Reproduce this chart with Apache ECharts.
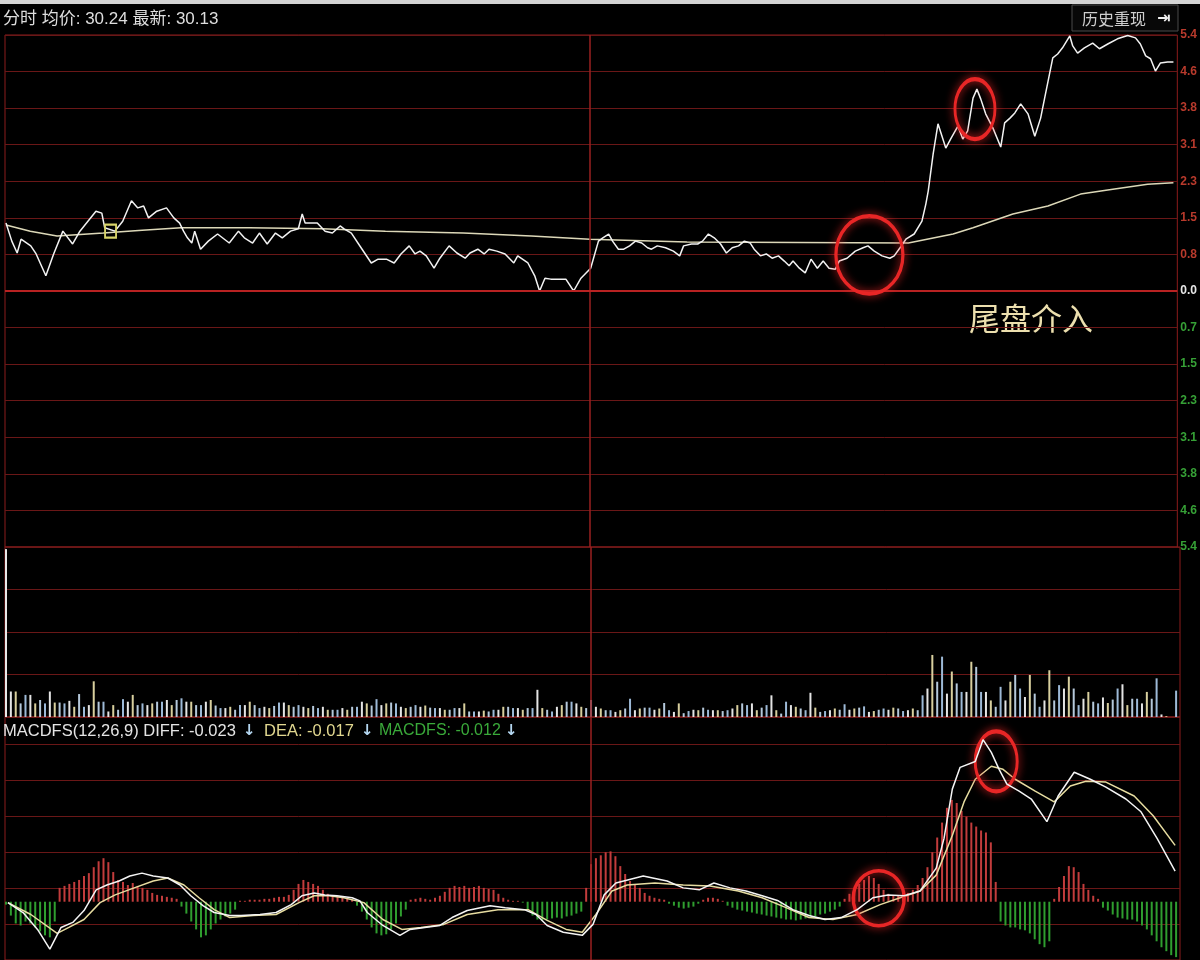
<!DOCTYPE html>
<html>
<head>
<meta charset="utf-8">
<title>分时 MACDFS</title>
<script src="https://cdn.jsdelivr.net/npm/echarts@6/dist/echarts.min.js"></script>
<style>
  html, body { margin: 0; padding: 0; background: #000; }
  #main { width: 1200px; height: 960px; }
</style>
</head>
<body>
<div id="main"></div>
<script>
// 分钟序号：0 = 9:30，120 = 11:30/13:00，240 = 15:00
// 分时价格 [分钟, 涨幅%]
const pricePts = [[0,1.43],[1.2,1.05],[2.3,0.80],[3.1,1.09],[5.1,0.95],[6.2,0.78],[8.2,0.32],[9.8,0.78],[11.7,1.26],[13.7,0.99],[15.2,1.26],[18.5,1.68],[19.7,1.64],[20.3,1.33],[22.4,1.26],[24.0,1.47],[25.8,1.90],[27.1,1.75],[28.3,1.79],[29.3,1.54],[31.0,1.68],[33.0,1.75],[34.5,1.54],[35.7,1.43],[36.5,1.26],[37.3,1.12],[38.2,1.01],[38.8,1.26],[40.0,0.88],[41.6,1.05],[43.5,1.20],[45.9,1.01],[47.8,1.26],[49.0,1.12],[50.7,1.01],[52.1,1.22],[53.7,0.99],[55.4,1.22],[56.8,1.12],[58.5,1.26],[60.1,1.31],[60.9,1.62],[61.5,1.43],[64.0,1.43],[65.6,1.26],[67.1,1.22],[68.7,1.37],[69.5,1.31],[71.0,1.22],[73.0,0.91],[75.1,0.59],[76.5,0.67],[78.2,0.67],[79.8,0.59],[81.2,0.78],[82.9,0.95],[84.1,0.78],[85.1,0.84],[86.4,0.74],[88.0,0.48],[89.2,0.69],[91.1,0.95],[92.7,0.80],[94.4,0.69],[95.4,0.80],[97.0,0.88],[98.3,0.78],[99.3,0.88],[100.9,0.84],[102.6,0.78],[104.4,0.59],[105.2,0.74],[107.3,0.59],[108.7,0.32],[109.7,0.00],[110.8,0.27],[112.0,0.25],[115.1,0.25],[116.7,0.00],[118.2,0.27],[120.2,0.48],[121.8,1.05],[122.7,1.12],[123.9,1.20],[124.7,1.05],[125.9,0.88],[127.0,0.88],[128.2,0.95],[129.4,1.05],[130.7,1.01],[131.9,0.91],[132.7,0.88],[133.9,0.95],[135.6,0.91],[137.2,0.84],[138.5,0.74],[139.3,0.95],[140.9,0.99],[142.2,0.99],[143.2,1.05],[144.4,1.20],[145.6,1.12],[146.9,0.99],[148.1,0.80],[149.3,0.91],[150.6,0.95],[151.8,1.05],[153.0,1.01],[153.8,0.88],[155.1,0.74],[156.3,0.78],[157.5,0.69],[158.8,0.74],[160.0,0.63],[161.0,0.53],[161.8,0.63],[163.1,0.48],[164.3,0.38],[165.5,0.67],[166.8,0.48],[168.0,0.63],[169.2,0.48],[170.5,0.46],[171.3,0.63],[172.9,0.69],[174.6,0.84],[176.2,0.91],[177.2,0.95],[178.5,0.84],[180.1,0.74],[181.7,0.69],[182.6,0.74],[183.8,0.91],[185.0,1.09],[186.7,1.20],[188.3,1.47],[189.1,1.83],[189.6,2.11],[190.6,2.88],[191.6,3.52],[193.2,3.01],[194.3,3.22],[195.7,3.47],[196.7,3.20],[197.7,3.37],[198.8,4.06],[199.6,4.25],[200.4,4.04],[201.4,3.73],[202.9,3.43],[204.5,3.03],[205.3,3.54],[206.4,3.64],[207.4,3.75],[208.6,3.94],[210.1,3.73],[211.5,3.26],[212.7,3.64],[213.7,4.15],[215.2,4.91],[216.2,4.99],[217.2,5.12],[218.7,5.37],[219.3,5.16],[220.3,5.01],[221.7,5.12],[223.4,5.22],[224.8,5.10],[226.5,5.20],[228.5,5.31],[230.6,5.38],[232.2,5.33],[233.2,5.20],[234.3,4.95],[235.3,4.89],[236.3,4.63],[237.3,4.80],[238.8,4.82],[240,4.82]];

// 均价线 [分钟, 涨幅%]
const avgPts = [[0,1.39],[5,1.26],[10.5,1.16],[20,1.22],[28,1.28],[36,1.33],[50,1.33],[65,1.31],[78,1.26],[94,1.22],[108,1.16],[120,1.09],[140,1.03],[185.5,1.01],[194.7,1.20],[198.8,1.33],[207,1.62],[214.2,1.79],[220.9,2.04],[227.9,2.15],[234.7,2.25],[240,2.28]];

// 每分钟成交量（相对单位，每格 = 1）
const volume = [3.95,
  0.60,0.60,0.32,0.52,0.52,0.32,0.40,0.32,0.60,0.34,
  0.34,0.32,0.38,0.24,0.54,0.24,0.28,0.84,0.36,0.36,
  0.13,0.28,0.17,0.42,0.36,0.52,0.28,0.32,0.28,
  0.32,0.36,0.36,0.40,0.28,0.40,0.44,0.36,0.36,0.28,
  0.28,0.36,0.40,0.27,0.21,0.21,0.24,0.17,0.28,0.28,
  0.36,0.28,0.21,0.24,0.21,0.26,0.34,0.34,0.28,0.24,
  0.28,0.24,0.21,0.26,0.21,0.24,0.17,0.17,0.17,0.21,
  0.17,0.24,0.24,0.36,0.32,0.27,0.42,0.28,0.32,0.34,
  0.32,0.24,0.21,0.24,0.28,0.24,0.27,0.22,0.21,0.21,
  0.17,0.17,0.21,0.21,0.32,0.13,0.13,0.13,0.15,
  0.13,0.17,0.17,0.24,0.24,0.21,0.21,0.17,0.21,0.21,
  0.64,0.21,0.17,0.13,0.24,0.28,0.36,0.36,0.32,0.24,
  0.21,0.40,
  0.24,0.20,0.16,0.16,0.12,0.16,0.20,0.43,0.16,0.20,0.22,
  0.22,0.17,0.20,0.33,0.16,0.12,0.32,0.09,0.14,0.17,
  0.16,0.22,0.17,0.16,0.16,0.14,0.16,0.20,0.28,0.32,
  0.28,0.32,0.16,0.22,0.28,0.51,0.16,0.08,0.36,0.28,
  0.24,0.20,0.16,0.57,0.22,0.12,0.14,0.16,0.20,0.17,
  0.30,0.17,0.20,0.22,0.25,0.12,0.14,0.17,0.20,0.17,
  0.22,0.20,0.14,0.16,0.20,0.16,0.51,0.67,1.46,0.83,
  1.42,0.55,1.07,0.79,0.59,0.59,1.30,1.18,0.59,0.59,
  0.39,0.24,0.71,0.39,0.83,0.99,0.67,0.47,0.99,0.55,
  0.24,0.39,1.10,0.39,0.75,0.67,0.95,0.67,0.28,0.43,
  0.59,0.36,0.32,0.46,0.33,0.41,0.67,0.77,0.28,0.43,
  0.43,0.32,0.59,0.43,0.91,0.06,0.02,0,0.62];

// MACDFS(12,26,9)，单位 0.001
const diffPts = [[0.4,-0.5],[3.5,-6.0],[6.6,-15.9],[9.0,-26.4],[11.3,-14.3],[13.7,-11.5],[16.0,-4.9],[18.5,6.6],[20.7,9.3],[23.2,11.5],[25.4,14.3],[27.9,15.9],[30.2,14.3],[33.2,13.2],[35.7,9.3],[37.9,3.3],[40.4,-2.2],[42.7,-6.0],[45.9,-7.7],[48.2,-7.7],[52.1,-7.1],[55.4,-6.0],[58.5,-1.6],[60.7,3.3],[63.2,4.9],[65.4,3.8],[67.9,3.3],[71.0,2.2],[72.6,0.5],[74.1,-6.0],[77.3,-13.2],[80.8,-18.7],[82.9,-15.4],[85.9,-14.3],[89.0,-13.2],[91.5,-8.8],[94.6,-4.9],[99.3,-2.2],[102.4,-3.3],[106.3,-4.4],[108.7,-7.1],[111.0,-13.2],[114.3,-17.0],[118.2,-18.7],[120.4,-12.6],[122.7,3.8],[125.1,10.4],[130.7,14.3],[135.6,11.5],[138.9,7.7],[142.2,6.6],[145.2,10.4],[148.5,7.7],[151.8,6.0],[155.1,3.3],[158.4,0.5],[161.4,-4.4],[164.7,-7.7],[168.0,-9.9],[171.3,-8.8],[174.6,-4.4],[177.8,2.2],[180.9,3.8],[184.2,3.3],[187.5,6.0],[190.8,18.7],[192.4,35.2],[194.1,62.6],[195.7,74.7],[198.8,78.0],[200.4,90.1],[202.1,83.0],[203.7,73.6],[205.3,65.4],[207.8,61.5],[210.3,57.1],[213.5,44.5],[215.8,58.8],[219.1,72.0],[222.4,68.1],[225.6,63.7],[229.7,57.1],[232.8,50.0],[236.1,35.2],[239.8,17.0]];
const deaPts = [[0.4,-0.5],[5.1,-7.1],[10.5,-17.6],[12.9,-14.3],[16.0,-9.9],[19.3,-0.5],[22.4,3.8],[26.3,7.7],[30.2,11.5],[33.2,13.2],[36.5,9.3],[39.6,2.2],[42.7,-4.4],[45.9,-8.8],[50.7,-7.7],[55.4,-7.1],[60.1,-0.5],[63.2,3.3],[66.3,3.3],[69.3,2.2],[73.4,-0.5],[77.3,-9.9],[81.2,-15.4],[85.1,-14.3],[89.8,-12.6],[94.6,-7.1],[100.9,-4.4],[107.1,-4.4],[111.0,-10.4],[114.9,-15.4],[118.2,-17.0],[121.0,-7.1],[124.3,6.0],[127.4,9.3],[133.1,10.4],[138.9,9.3],[144.4,8.8],[150.2,6.0],[155.1,2.2],[160.0,-3.3],[164.7,-8.8],[169.6,-9.9],[174.6,-7.1],[179.3,-1.6],[183.4,2.2],[187.5,6.0],[190.8,14.8],[194.1,36.8],[196.5,55.5],[198.8,68.1],[202.1,75.3],[204.5,73.6],[207.0,68.1],[211.1,61.5],[215.0,55.5],[218.3,64.3],[221.5,67.0],[225.6,66.5],[231.4,58.8],[235.3,47.8],[239.8,31.3]];
// 每分钟 MACDFS 柱，单位 0.001
const macdBar = [
  -1.6,-7.7,-12.1,-13.2,-11.0,-12.1,-14.3,-16.5,-18.7,-19.8,-11.0,
  7.7,8.8,9.9,11.0,12.1,14.3,15.9,19.2,22.5,24.2,22.0,16.5,12.1,11.0,9.3,10.4,8.8,7.7,6.6,4.9,3.8,3.3,2.7,2.2,1.6,
  -2.7,-6.6,-11.0,-15.4,-19.8,-18.7,-15.4,-12.1,-9.9,-8.2,-6.6,-4.4,
  0.5,0.5,1.1,1.1,1.1,1.6,1.6,2.2,2.7,2.7,3.8,6.6,9.9,12.1,11.0,9.9,8.8,6.6,4.4,3.3,2.7,2.2,1.6,1.1,
  -2.2,-5.5,-9.9,-14.3,-17.6,-18.7,-18.1,-15.4,-12.1,-8.2,-4.4,
  1.1,1.6,2.2,1.6,1.1,2.2,3.3,
  5.5,7.7,8.8,8.2,8.8,7.7,8.2,8.8,7.7,7.1,6.6,4.4,
  2.2,1.1,0.5,0.5,-0.5,
  -4.4,-7.7,-9.9,-10.4,-9.9,-9.3,-8.8,-9.3,-8.2,-7.7,-6.6,-5.5,
  7.7,20.9,24.2,25.8,27.5,28.0,25.3,19.8,15.4,11.5,9.3,7.7,4.9,3.3,2.2,1.6,1.1,
  -1.1,-2.2,-3.3,-3.8,-3.3,-2.7,-1.1,1.1,2.2,2.2,1.6,0.5,
  -2.2,-3.3,-4.4,-4.9,-5.5,-6.0,-6.6,-7.1,-7.7,-8.2,-8.8,-9.3,-9.9,-9.9,-10.4,-9.9,-9.3,-8.8,-8.2,-7.1,-6.6,-5.5,-4.4,-2.7,
  1.6,4.4,6.6,9.9,12.1,14.3,13.2,9.9,6.6,4.4,3.3,
  3.3,3.8,4.9,6.6,9.3,13.2,19.2,27.5,35.7,44.0,52.2,56.6,54.9,50.5,47.3,44.0,41.8,39.6,38.5,33.0,11.0,
  -11.0,-13.2,-14.3,-14.3,-15.4,-15.9,-17.6,-20.9,-23.6,-25.3,-22.0,
  1.6,8.2,14.3,19.8,19.2,16.5,9.9,6.6,3.3,1.6,
  -3.3,-4.9,-7.1,-8.8,-9.3,-9.9,-9.9,-11.0,-13.2,-15.4,-18.7,-22.0,-25.3,-27.5,-29.7,-30.8];

// 右侧涨跌幅刻度（图中被裁切的文字）
const pctLabels = ['5.4','4.6','3.8','3.1','2.3','1.5','0.7','0.0','0.8','1.5','2.3','3.1','3.8','4.6','5.4'];

// 手绘标注圈的中心
const priceRings = [[199.2, 3.83], [177.5, 0.76]];
const macdRings = [[203.1, 78.0], [179.0, 1.9]];
const infoMark = [21.5, 1.26];

const GRID_RED = '#6a1717';
const BORDER_RED = '#8c1c1c';
const ringStyle = {
  color: 'rgba(0,0,0,0)', borderColor: '#e82626', borderWidth: 3.5,
  shadowBlur: 8, shadowColor: 'rgba(255,40,40,0.9)'
};
const priceRingSize = [[40, 60], [67, 78]];
const macdRingSize = [[42, 60], [51, 55]];
const volColors = ['#9db9d6', '#e4e4e4', '#d8cf9e', '#b5c8da'];

function ring(c, size) {
  return { coord: c, symbol: 'circle', symbolSize: size, itemStyle: ringStyle, label: { show: false } };
}
function midLine() {
  return {
    silent: true, symbol: 'none', label: { show: false },
    lineStyle: { color: '#9a2020', width: 1.5, type: 'solid' },
    data: [{ xAxis: 120 }]
  };
}
function hiddenAxis(i, min, max, interval) {
  return {
    gridIndex: i, type: 'value', min: min, max: max, interval: interval,
    axisLine: { show: false }, axisTick: { show: false }, axisLabel: { show: false },
    splitLine: { lineStyle: { color: GRID_RED, width: 1 } }
  };
}
function label(text, x, y, fill, font) {
  return {
    type: 'text', x: x, y: y,
    style: { text: text, fill: fill, font: font, textVerticalAlign: 'middle', verticalAlign: 'middle' }
  };
}

const LATIN = '"Liberation Sans", Arial, sans-serif';
const ARROW = 'bold 15px "DejaVu Sans", sans-serif';

const chart = echarts.init(document.getElementById('main'));
chart.setOption({
  backgroundColor: '#000',
  animation: false,
  grid: [
    { left: 5, right: 20, top: 35, height: 512, show: true, borderColor: BORDER_RED, borderWidth: 1 },
    { left: 5, right: 20, top: 547, height: 170, show: true, borderColor: BORDER_RED, borderWidth: 1 },
    { left: 5, right: 20, top: 717, height: 246, show: true, borderColor: BORDER_RED, borderWidth: 1 }
  ],
  xAxis: [0, 1, 2].map(i => ({ gridIndex: i, type: 'value', min: -0.2, max: 240.8, show: false })),
  yAxis: [
    {
      gridIndex: 0, type: 'value', position: 'right', min: -5.39, max: 5.39, interval: 0.77,
      axisLine: { show: false }, axisTick: { show: false },
      splitLine: { lineStyle: { color: GRID_RED, width: 1 } },
      axisLabel: {
        margin: 3, fontSize: 12, fontWeight: 'bold', fontFamily: LATIN,
        formatter: v => pctLabels[Math.round(v / 0.77) + 7],
        color: v => (+v > 0.01 ? '#b83a2c' : (+v < -0.01 ? '#36a036' : '#e6e6e6'))
      }
    },
    hiddenAxis(1, 0, 4, 1),
    hiddenAxis(2, -32.4, 102.7, 20)
  ],
  series: [
    {
      name: '均价', type: 'line', xAxisIndex: 0, yAxisIndex: 0, data: avgPts,
      symbol: 'none', lineStyle: { color: '#dcd8b8', width: 1.5 }, z: 3
    },
    {
      name: '价格', type: 'line', xAxisIndex: 0, yAxisIndex: 0, data: pricePts,
      symbol: 'none', lineStyle: { color: '#f2f2f2', width: 1.5 }, z: 4,
      markLine: {
        silent: true, symbol: 'none', label: { show: false },
        data: [
          { xAxis: 120, lineStyle: { color: '#9a2020', width: 1.5, type: 'solid' } },
          { yAxis: 0, lineStyle: { color: '#b82222', width: 2, type: 'solid' } }
        ]
      },
      markPoint: {
        silent: true,
        data: priceRings.map((c, i) => ring(c, priceRingSize[i])).concat([{
          coord: infoMark, symbol: 'rect', symbolSize: [11, 13],
          itemStyle: { color: 'rgba(0,0,0,0)', borderColor: '#d8d46a', borderWidth: 2 },
          label: { show: false }
        }])
      }
    },
    {
      name: '成交量', type: 'bar', xAxisIndex: 1, yAxisIndex: 1,
      data: volume.map((v, i) => [i, v]), barWidth: 2,
      itemStyle: { color: p => (p.dataIndex === 0 ? '#e8e8e8' : volColors[p.dataIndex % volColors.length]) },
      markLine: midLine()
    },
    {
      name: 'MACDFS', type: 'bar', xAxisIndex: 2, yAxisIndex: 2,
      data: macdBar.map((v, i) => [i, v]), barWidth: 2,
      itemStyle: { color: p => (p.value[1] >= 0 ? '#c23c3c' : '#2f9e2f') },
      markLine: midLine()
    },
    {
      name: 'DEA', type: 'line', xAxisIndex: 2, yAxisIndex: 2, data: deaPts,
      symbol: 'none', lineStyle: { color: '#e6dca0', width: 1.5 }, z: 4
    },
    {
      name: 'DIFF', type: 'line', xAxisIndex: 2, yAxisIndex: 2, data: diffPts,
      symbol: 'none', lineStyle: { color: '#f4f4f4', width: 1.5 }, z: 5,
      markPoint: { silent: true, data: macdRings.map((c, i) => ring(c, macdRingSize[i])) }
    }
  ],
  graphic: [
    { type: 'rect', shape: { x: 0, y: 0, width: 1200, height: 4 }, style: { fill: '#d4d4d4' } },
    label('分时 均价: 30.24 最新: 30.13', 3, 19, '#dedede', '17px "Liberation Sans", "Noto Sans CJK SC", sans-serif'),
    { type: 'rect', shape: { x: 1072, y: 5, width: 106, height: 26 }, style: { fill: '#080808', stroke: '#4a4a4a', lineWidth: 1 } },
    label('历史重现', 1082, 19, '#cfcfcf', '16px "Noto Sans CJK SC", sans-serif'),
    label('⇥', 1157, 19, '#f0f0f0', 'bold 16px "DejaVu Sans", sans-serif'),
    label('MACDFS(12,26,9) DIFF: -0.023', 3, 731, '#e4e4e4', '16.5px ' + LATIN),
    label('↓', 243, 731, '#b4d6f0', ARROW),
    label('DEA: -0.017', 264, 731, '#e2d890', '16.5px ' + LATIN),
    label('↓', 361, 731, '#b4d6f0', ARROW),
    label('MACDFS: -0.012', 379, 731, '#3aaa3a', '16px ' + LATIN),
    label('↓', 505, 731, '#b4d6f0', ARROW),
    label('尾盘介入', 969, 318, '#ecdfae', '31px "Noto Sans CJK SC", sans-serif')
  ]
});
</script>
</body>
</html>
